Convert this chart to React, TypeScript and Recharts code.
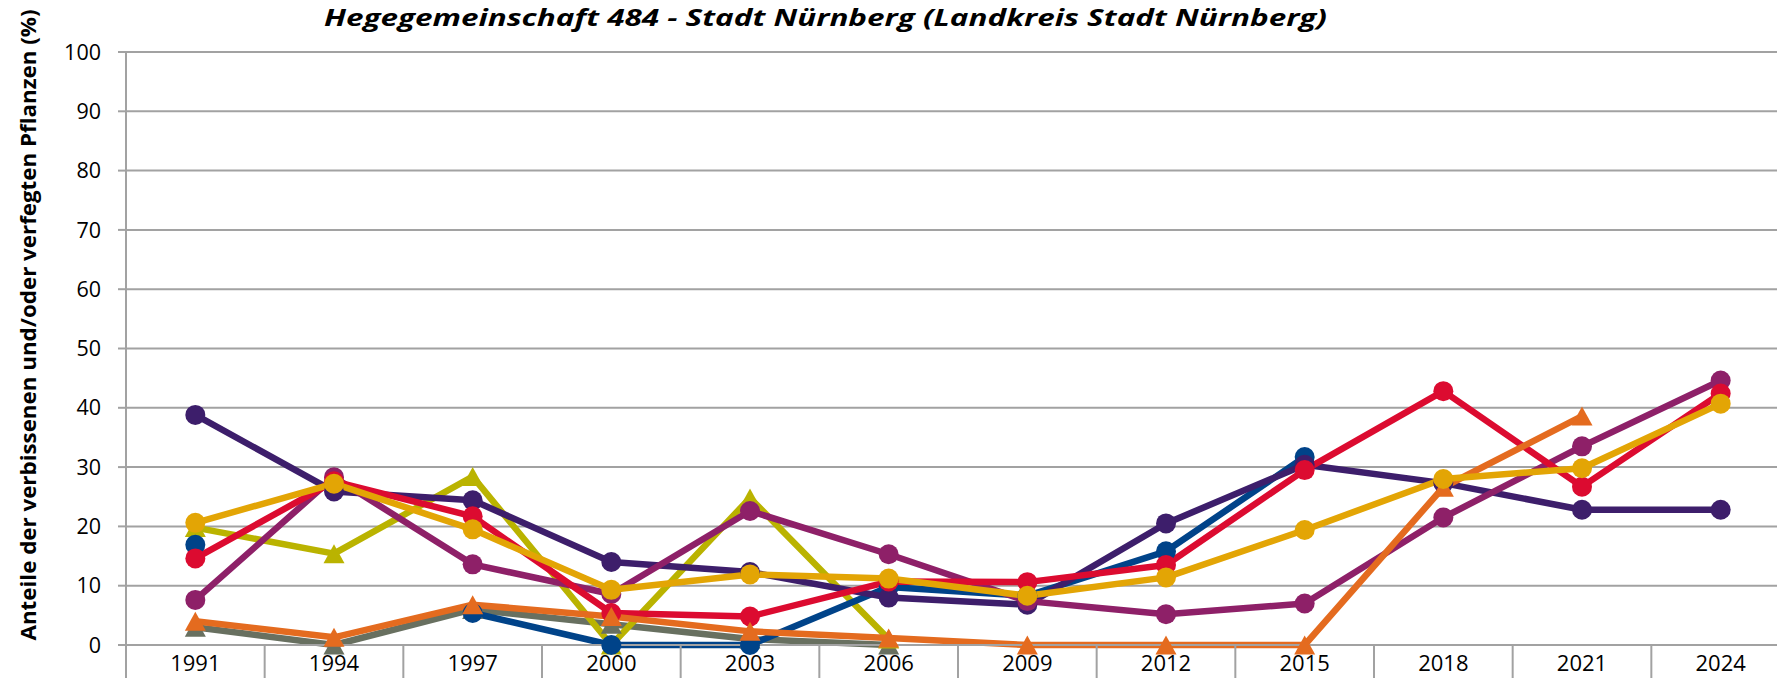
import React from 'react';
import { LineChart, Line, XAxis, YAxis, CartesianGrid } from 'recharts';

// ---------- data ----------
const years = ['1991', '1994', '1997', '2000', '2003', '2006', '2009', '2012', '2015', '2018', '2021', '2024'];
const yTicks = [0, 10, 20, 30, 40, 50, 60, 70, 80, 90, 100];

const grayS = [3.0, 0, 6.0, 3.5, 1.0, 0, null, null, null, null, null, null];
const oliveS = [19.8, 15.4, 28.4, 0, 24.8, 1.0, null, null, null, null, null, null];
const blueS = [16.9, null, 5.4, 0, 0, 9.8, 8.3, 15.8, 31.7, null, null, null];
const darkPurpleS = [38.8, 25.9, 24.4, 14.0, 12.3, 8.0, 6.8, 20.5, 30.4, 27.3, 22.8, 22.8];
const magentaS = [7.6, 28.3, 13.6, 8.6, 22.6, 15.3, 7.4, 5.2, 7.0, 21.5, 33.5, 44.6];
const redS = [14.6, 27.6, 21.7, 5.4, 4.8, 10.7, 10.6, 13.5, 29.5, 42.8, 26.7, 42.4];
const orangeS = [4.0, 1.3, 6.8, 4.8, 2.3, 1.2, 0, 0, 0, 26.6, 38.6, null];
const yellowS = [20.6, 27.2, 19.5, 9.3, 11.9, 11.2, 8.3, 11.4, 19.4, 28.0, 29.8, 40.7];

const titleText = 'Hegegemeinschaft 484 - Stadt Nürnberg (Landkreis Stadt Nürnberg)';
const yLabelText = 'Anteile der verbissenen und/oder verfegten Pflanzen (%)';

// ---------- series config ----------
type SeriesCfg = { key: string; values: (number | null)[]; color: string; marker: 'circle' | 'triangle' };
const series: SeriesCfg[] = [
  { key: 'gray', values: grayS, color: '#687060', marker: 'triangle' },
  { key: 'olive', values: oliveS, color: '#bab300', marker: 'triangle' },
  { key: 'blue', values: blueS, color: '#004389', marker: 'circle' },
  { key: 'darkPurple', values: darkPurpleS, color: '#3d1e6b', marker: 'circle' },
  { key: 'magenta', values: magentaS, color: '#8e2068', marker: 'circle' },
  { key: 'red', values: redS, color: '#dc0b30', marker: 'circle' },
  { key: 'orange', values: orangeS, color: '#e46b1f', marker: 'triangle' },
  { key: 'yellow', values: yellowS, color: '#e3a505', marker: 'circle' },
];

const data = years.map((y, i) => {
  const row: Record<string, any> = { year: y };
  series.forEach((s) => {
    row[s.key] = s.values[i];
  });
  return row;
});

// ---------- layout ----------
const W = 1800;
const H = 690;
const MARGIN = { top: 52, right: 10, bottom: 0, left: 0 };
const Y_AXIS_W = 126;
const X_AXIS_H = 45;
const PLOT_W = W - MARGIN.left - MARGIN.right - Y_AXIS_W;
const HALF = PLOT_W / years.length / 2;
const GRID = '#a2a2a2';
const FONT = '"Open Sans", "Noto Sans", sans-serif';

function XTick(props: any) {
  const { x, y, payload } = props;
  return (
    <g>
      <line x1={x - HALF} x2={x - HALF} y1={y} y2={y + 60} stroke={GRID} strokeWidth={2} />
      <text x={x} y={y + 26} textAnchor="middle" fontFamily={FONT} fontSize={22} fill="#000">
        {payload.value}
      </text>
    </g>
  );
}

const makeTriangle = (color: string) => (props: any) => {
  const { cx, cy, index } = props;
  if (cx == null || cy == null || isNaN(cx) || isNaN(cy)) return <g key={`t-${index}`} />;
  const w = 21;
  const h = 19;
  return (
    <polygon
      key={`t-${index}`}
      points={`${cx},${cy - h / 2} ${cx - w / 2},${cy + h / 2} ${cx + w / 2},${cy + h / 2}`}
      fill={color}
    />
  );
};

export default function App() {
  return (
    <div
      style={{
        position: 'fixed',
        left: 0,
        top: 0,
        width: 1777,
        height: 678,
        overflow: 'hidden',
        background: '#fff',
      }}
    >
      <div style={{ position: 'absolute', left: 0, top: 0 }}>
        <LineChart width={W} height={H} data={data} margin={MARGIN}>
          <CartesianGrid vertical={false} stroke={GRID} strokeWidth={2} />
          <XAxis
            dataKey="year"
            type="category"
            interval={0}
            padding={{ left: HALF, right: HALF }}
            height={X_AXIS_H}
            axisLine={{ stroke: GRID, strokeWidth: 2 }}
            tickLine={false}
            tickSize={0}
            tickMargin={0}
            tick={<XTick />}
          />
          <YAxis
            type="number"
            domain={[0, 100]}
            ticks={yTicks}
            interval={0}
            width={Y_AXIS_W}
            axisLine={{ stroke: GRID, strokeWidth: 2 }}
            tickLine={{ stroke: GRID, strokeWidth: 2 }}
            tickSize={8}
            tickMargin={17}
            tick={{ fontSize: 21.5, fill: '#000', fontFamily: FONT }}
          />
          {series.map((s) => (
            <Line
              key={s.key}
              dataKey={s.key}
              type="linear"
              stroke={s.color}
              strokeWidth={6.5}
              strokeLinejoin="round"
              isAnimationActive={false}
              activeDot={false}
              dot={
                s.marker === 'circle'
                  ? { r: 10, fill: s.color, stroke: 'none', strokeWidth: 0 }
                  : makeTriangle(s.color)
              }
            />
          ))}
        </LineChart>
      </div>
      <svg
        width={1777}
        height={678}
        style={{ position: 'absolute', left: 0, top: 0, pointerEvents: 'none' }}
      >
        <text
          x={324}
          y={26}
          fontFamily={FONT}
          fontWeight="bold"
          fontStyle="italic"
          fontSize={24}
          fill="#000"
          textLength={1003}
          lengthAdjust="spacingAndGlyphs"
        >
          {titleText}
        </text>
        <text
          x={36}
          y={325}
          transform="rotate(-90, 36, 325)"
          textAnchor="middle"
          fontFamily={FONT}
          fontWeight="bold"
          fontSize={22}
          fill="#000"
          textLength={631}
          lengthAdjust="spacingAndGlyphs"
        >
          {yLabelText}
        </text>
      </svg>
    </div>
  );
}
